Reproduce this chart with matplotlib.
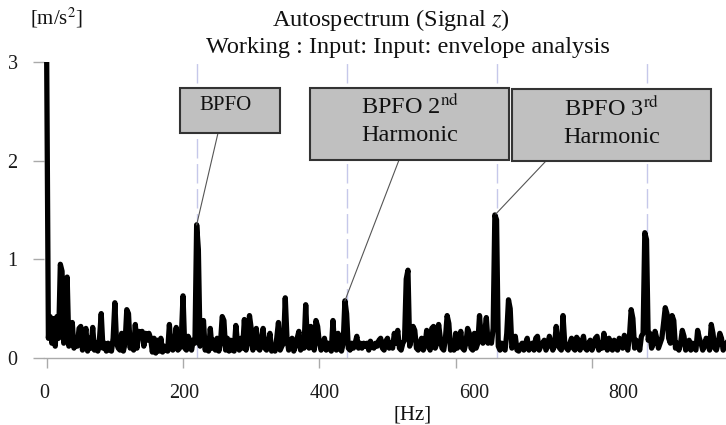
import numpy as np
import matplotlib
matplotlib.use("Agg")
import matplotlib.pyplot as plt
from matplotlib.patches import Rectangle
from matplotlib.transforms import ScaledTranslation

plt.rcParams['font.family'] = ['Liberation Serif', 'DejaVu Serif']
plt.rcParams['mathtext.fontset'] = 'stix'

# ---- data ----
freq_step = 2.5  # Hz per sample
amplitude = [
    # 0 - 47.5 Hz
    3.00, 0.20, 0.42, 0.15, 0.40, 0.12, 0.42, 0.20, 0.95, 0.88,
    0.15, 0.20, 0.82, 0.12, 0.18, 0.36, 0.10, 0.20, 0.12, 0.30,
    # 50 - 97.5
    0.32, 0.08, 0.18, 0.30, 0.07, 0.20, 0.10, 0.31, 0.08, 0.15,
    0.07, 0.20, 0.45, 0.10, 0.15, 0.07, 0.15, 0.08, 0.07, 0.20,
    # 100 - 147.5
    0.56, 0.15, 0.10, 0.08, 0.25, 0.07, 0.15, 0.49, 0.45, 0.10,
    0.20, 0.08, 0.34, 0.10, 0.27, 0.25, 0.27, 0.12, 0.25, 0.18,
    # 150 - 197.5
    0.25, 0.20, 0.06, 0.20, 0.05, 0.18, 0.07, 0.20, 0.06, 0.12,
    0.08, 0.07, 0.34, 0.10, 0.08, 0.15, 0.31, 0.08, 0.10, 0.20,
    # 200 - 247.5
    0.63, 0.10, 0.08, 0.22, 0.18, 0.08, 0.18, 0.15, 1.35, 1.10,
    0.12, 0.20, 0.38, 0.08, 0.15, 0.07, 0.30, 0.10, 0.18, 0.08,
    # 250 - 297.5
    0.20, 0.07, 0.15, 0.42, 0.38, 0.08, 0.20, 0.07, 0.18, 0.08,
    0.07, 0.33, 0.15, 0.08, 0.20, 0.10, 0.39, 0.08, 0.15, 0.43,
    # 300 - 347.5
    0.30, 0.08, 0.15, 0.30, 0.10, 0.08, 0.18, 0.30, 0.10, 0.08,
    0.15, 0.25, 0.07, 0.12, 0.07, 0.20, 0.36, 0.08, 0.12, 0.15,
    # 350 - 397.5
    0.61, 0.20, 0.08, 0.15, 0.20, 0.07, 0.12, 0.20, 0.27, 0.08,
    0.15, 0.10, 0.54, 0.15, 0.10, 0.32, 0.15, 0.08, 0.38, 0.32,
    # 400 - 447.5
    0.15, 0.08, 0.12, 0.20, 0.08, 0.15, 0.10, 0.07, 0.38, 0.10,
    0.08, 0.25, 0.10, 0.07, 0.15, 0.58, 0.45, 0.10, 0.08, 0.15,
    # 450 - 497.5
    0.10, 0.15, 0.22, 0.10, 0.15, 0.10, 0.15, 0.12, 0.15, 0.08,
    0.17, 0.12, 0.10, 0.15, 0.12, 0.18, 0.20, 0.10, 0.08, 0.17,
    # 500 - 547.5
    0.20, 0.10, 0.15, 0.10, 0.25, 0.15, 0.28, 0.10, 0.08, 0.15,
    0.18, 0.80, 0.89, 0.12, 0.20, 0.32, 0.28, 0.10, 0.08, 0.15,
    # 550 - 597.5
    0.20, 0.08, 0.12, 0.28, 0.15, 0.08, 0.30, 0.32, 0.10, 0.15,
    0.34, 0.20, 0.10, 0.08, 0.20, 0.43, 0.35, 0.08, 0.12, 0.08,
    # 600 - 647.5
    0.25, 0.10, 0.15, 0.27, 0.10, 0.08, 0.15, 0.30, 0.25, 0.10,
    0.08, 0.25, 0.10, 0.15, 0.43, 0.20, 0.15, 0.25, 0.41, 0.15,
    # 650 - 697.5
    0.20, 0.15, 0.30, 1.45, 1.40, 0.12, 0.08, 0.15, 0.10, 0.08,
    0.25, 0.59, 0.50, 0.10, 0.15, 0.22, 0.08, 0.07, 0.12, 0.15,
    # 700 - 747.5
    0.08, 0.15, 0.20, 0.08, 0.12, 0.15, 0.08, 0.20, 0.22, 0.08,
    0.12, 0.15, 0.18, 0.08, 0.12, 0.22, 0.15, 0.08, 0.12, 0.32,
    # 750 - 797.5
    0.15, 0.10, 0.08, 0.43, 0.15, 0.10, 0.08, 0.15, 0.20, 0.10,
    0.08, 0.21, 0.18, 0.08, 0.15, 0.22, 0.10, 0.08, 0.15, 0.18,
    # 800 - 847.5
    0.08, 0.12, 0.20, 0.22, 0.08, 0.15, 0.10, 0.25, 0.15, 0.08,
    0.20, 0.10, 0.08, 0.18, 0.10, 0.08, 0.20, 0.15, 0.10, 0.23,
    # 850 - 897.5
    0.15, 0.08, 0.22, 0.49, 0.40, 0.10, 0.18, 0.15, 0.08, 0.22,
    0.25, 1.27, 1.20, 0.18, 0.25, 0.10, 0.15, 0.27, 0.20, 0.10,
    # 900 - 947.5
    0.15, 0.20, 0.35, 0.51, 0.45, 0.20, 0.15, 0.43, 0.38, 0.10,
    0.15, 0.08, 0.15, 0.28, 0.22, 0.08, 0.12, 0.18, 0.08, 0.15,
    # 950 - 997.5
    0.10, 0.08, 0.28, 0.20, 0.15, 0.08, 0.12, 0.20, 0.15, 0.08,
    0.34, 0.25, 0.10, 0.08, 0.15, 0.25, 0.20, 0.08, 0.12, 0.15,
]
harmonic_freqs = [220, 440, 660, 880]
x_ticks = [0, 200, 400, 600, 800]
y_ticks = [0, 1, 2, 3]
box_labels = ["BPFO", "BPFO 2$^{\\mathrm{nd}}$\nHarmonic", "BPFO 3$^{\\mathrm{rd}}$\nHarmonic"]
peak_freqs = [220, 437.5, 659]
peak_vals = [1.35, 0.58, 1.46]

freqs = np.arange(len(amplitude)) * freq_step

W, H = 726, 425
fig = plt.figure(figsize=(W / 100, H / 100), dpi=100)
ax_left, ax_right, ax_bottom, ax_top = 44, 726, 358, 62
ax = fig.add_axes([ax_left / W, 1 - ax_bottom / H, (ax_right - ax_left) / W, (ax_bottom - ax_top) / H])

# px <-> data helpers (for annotation placement)
def px2x(px):
    return (px - 46.7) / 0.6816

def py2y(py):
    return (358 - py) / 98.67

ax.set_xlim(px2x(ax_left), px2x(ax_right))
ax.set_ylim(0, 3)

for f in harmonic_freqs:
    ax.axvline(f, color='#c6c8ea', lw=1.0, linestyle=(0, (14, 4)), zorder=1)

ax.plot(freqs, amplitude, color='black', lw=3.8, zorder=3)

for s in ['left', 'top', 'right']:
    ax.spines[s].set_visible(False)
ax.spines['bottom'].set_color('#aaaaaa')
ax.spines['bottom'].set_linewidth(1.0)

ax.set_xticks(x_ticks)
ax.set_yticks(y_ticks)
ax.tick_params(axis='both', colors='#aaaaaa', labelcolor='#1a1a1a', labelsize=14.5,
               width=1.0, direction='out')
ax.tick_params(axis='x', length=7.5, pad=11)
ax.tick_params(axis='y', length=8, pad=11)

# reference's x tick labels drift right of their ticks
label_offsets = [-2, 1, 5, 19, 31]
for lab, dx in zip(ax.get_xticklabels(), label_offsets):
    lab.set_transform(lab.get_transform() + ScaledTranslation(dx / 100, 0, fig.dpi_scale_trans))

# annotation boxes (pixel boxes: x0, x1, ytop, ybottom)
boxes = [(180, 280, 88, 133), (310, 509, 88, 160), (512, 711, 89, 161)]
text_pos = [(225, 105), (410, 120), (612, 122)]
leader_from = [(218, 133), (399, 160), (545, 162)]
fsizes = [15, 17.5, 17.5]
for (x0, x1, yt, yb), (tx, ty), (lx, ly), lab, pf, pv, fs in zip(
        boxes, text_pos, leader_from, box_labels, peak_freqs, peak_vals, fsizes):
    ax.add_patch(Rectangle((px2x(x0), py2y(yb)), px2x(x1) - px2x(x0), py2y(yt) - py2y(yb),
                           facecolor='#c0c0c0', edgecolor='#333333', lw=1.5, zorder=5,
                           clip_on=False))
    ax.text(px2x(tx), py2y(ty), lab, ha='center', va='center', fontsize=fs,
            color='#111111', zorder=6, linespacing=1.4)
    ax.plot([px2x(lx), pf], [py2y(ly), pv], color='#555555', lw=0.8, zorder=4, clip_on=False)

fig.text(391 / W, 1 - 20 / H, "Autospectrum (Signal $z$)", ha='center', va='center',
         fontsize=17.5, color='#111111')
fig.text(408 / W, 1 - 47 / H, "Working : Input: Input: envelope analysis", ha='center',
         va='center', fontsize=17.5, color='#111111')
fig.text(57 / W, 1 - 18 / H, "[m/s$^2$]", ha='center', va='center', fontsize=15, color='#111111')
fig.text(413 / W, 1 - 415 / H, "[Hz]", ha='center', va='center', fontsize=15, color='#111111')

fig.savefig("out.png", dpi=100)
